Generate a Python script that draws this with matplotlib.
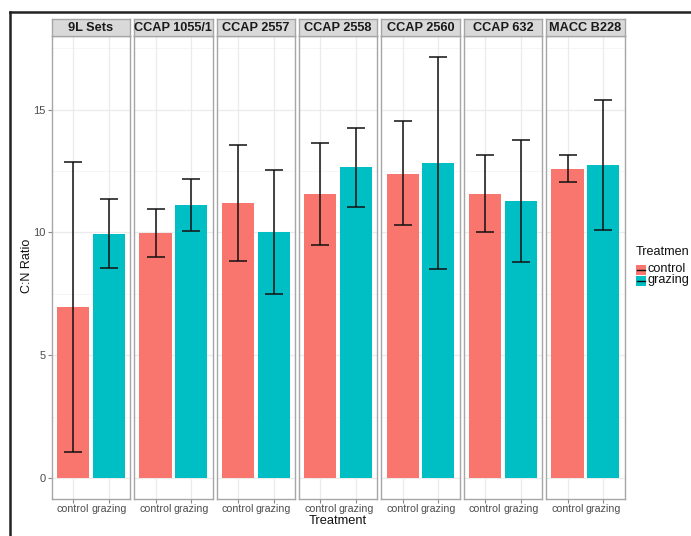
import matplotlib
matplotlib.use("Agg")
import matplotlib.pyplot as plt
from matplotlib.lines import Line2D
from matplotlib.patches import Rectangle

plt.rcParams['font.family'] = ['Liberation Sans', 'DejaVu Sans']

strains = ["9L Sets", "CCAP 1055/1", "CCAP 2557", "CCAP 2558", "CCAP 2560", "CCAP 632", "MACC B228"]
treatments = ["control", "grazing"]
control_mean = [6.95, 9.97, 11.2, 11.55, 12.4, 11.55, 12.6]
control_lo = [1.05, 9.0, 8.85, 9.5, 10.3, 10.0, 12.05]
control_hi = [12.86, 10.95, 13.55, 13.65, 14.53, 13.16, 13.15]
grazing_mean = [9.95, 11.1, 10.0, 12.65, 12.85, 11.28, 12.75]
grazing_lo = [8.55, 10.05, 7.5, 11.05, 8.5, 8.8, 10.1]
grazing_hi = [11.35, 12.17, 12.55, 14.24, 17.16, 13.75, 15.4]
yticks = [0, 5, 10, 15]
colors = {"control": "#F8766D", "grazing": "#00BFC4"}

W, H = 691, 536
fig = plt.figure(figsize=(W / 100, H / 100), dpi=100)

def fx(x):
    return x / W

def fy(y):
    return 1 - y / H

# outer black frame (top and left)
fig.add_artist(Line2D([fx(10), 1.0], [fy(12), fy(12)], color="#222222", lw=1.8, transform=fig.transFigure))
fig.add_artist(Line2D([fx(10), fx(10)], [fy(12), 0.0], color="#222222", lw=1.8, transform=fig.transFigure))

p_left0, p_w, p_gap = 51.7, 78.5, 3.9
p_top, p_bot = 35.7, 499.0
s_top = 19.3
ymax_all = max(max(control_hi), max(grazing_hi))
ylo, yhi = -0.05 * ymax_all, ymax_all * 1.05
border_col = "#a6a6a6"
grid_col = "#ebebeb"

for i, name in enumerate(strains):
    left = p_left0 + i * (p_w + p_gap)
    ax = fig.add_axes([fx(left), fy(p_bot), p_w / W, (p_bot - p_top) / H])
    ax.set_xlim(0.4, 2.6)
    ax.set_ylim(ylo, yhi)
    for y in [2.5, 7.5, 12.5, 17.5]:
        ax.axhline(y, color="#f4f4f4", lw=0.6, zorder=0)
    for y in yticks:
        ax.axhline(y, color=grid_col, lw=0.9, zorder=0)
    for x in [1, 2]:
        ax.axvline(x, color=grid_col, lw=0.9, zorder=0)
    means = [control_mean[i], grazing_mean[i]]
    los = [control_lo[i], grazing_lo[i]]
    his = [control_hi[i], grazing_hi[i]]
    xs = [1, 2]
    ax.bar(xs, means, width=0.9, color=[colors[t] for t in treatments], zorder=2)
    ax.errorbar(xs, means, yerr=[[m - l for m, l in zip(means, los)], [h - m for m, h in zip(means, his)]],
                fmt="none", ecolor="#111111", elinewidth=1.1, capsize=6.5, capthick=1.1, zorder=3)
    for sp in ax.spines.values():
        sp.set_color(border_col)
        sp.set_linewidth(1.0)
    ax.set_xticks(xs)
    ax.set_xticklabels(treatments, fontsize=7.7, color="#4d4d4d")
    ax.tick_params(axis="x", length=3, color="#888888", pad=0.5)
    if i == 0:
        ax.set_yticks(yticks)
        ax.set_yticklabels([str(v) for v in yticks], fontsize=8, color="#4d4d4d")
        ax.tick_params(axis="y", length=3, color="#888888", pad=1.5)
    else:
        ax.set_yticks([])
    # strip
    sax = fig.add_axes([fx(left), fy(p_top), p_w / W, (p_top - s_top) / H])
    sax.set_facecolor("#d9d9d9")
    sax.set_xticks([])
    sax.set_yticks([])
    for sp in sax.spines.values():
        sp.set_color(border_col)
        sp.set_linewidth(1.0)
    sax.text(0.5, 0.45, name, ha="center", va="center", fontsize=9.2, fontweight="bold",
             color="#1a1a1a", transform=sax.transAxes)

# axis titles
fig.text(fx(338), fy(521), "Treatment", ha="center", va="center", fontsize=9.3, color="#111111")
fig.text(fx(27), fy(266), "C:N Ratio", ha="center", va="center", rotation=90, fontsize=9, color="#111111")

# legend
fig.text(fx(636), fy(252), "Treatmen", ha="left", va="center", fontsize=9.1, color="#111111")
for k, t in enumerate(treatments):
    yc = 269.5 + k * 11
    fig.add_artist(Rectangle((fx(636), fy(yc + 5)), 9.5 / W, 10 / H, facecolor=colors[t],
                             edgecolor="none", transform=fig.transFigure))
    fig.add_artist(Line2D([fx(636.5), fx(645)], [fy(yc), fy(yc)], color="#111111", lw=1.0,
                          transform=fig.transFigure))
    fig.text(fx(647), fy(yc), t, ha="left", va="center", fontsize=9.2, color="#111111")

fig.savefig("out.png", dpi=100)
